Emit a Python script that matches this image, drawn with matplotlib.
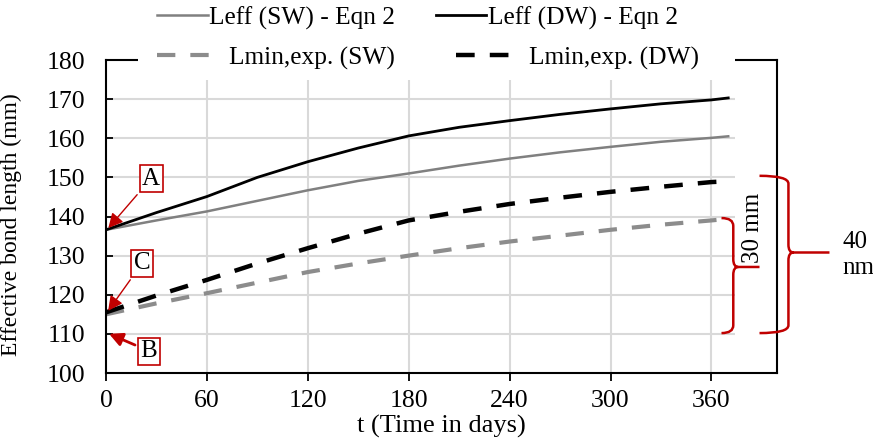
import matplotlib
matplotlib.use("Agg")
import matplotlib.pyplot as plt
from matplotlib.path import Path
from matplotlib.patches import PathPatch, Rectangle

plt.rcParams['font.family'] = ['Liberation Serif', 'DejaVu Serif']

# data
days_eff = [0, 30, 60, 90, 120, 150, 180, 210, 240, 270, 300, 330, 360, 370]
leff_sw = [136.6, 139.0, 141.3, 144.0, 146.7, 149.1, 151.0, 153.0, 154.8, 156.4, 157.8, 159.1, 160.1, 160.5]
leff_dw = [136.6, 141.0, 145.1, 150.0, 154.0, 157.5, 160.6, 162.8, 164.5, 166.1, 167.5, 168.8, 169.8, 170.3]
days_min = [0, 30, 60, 90, 120, 150, 180, 210, 240, 270, 300, 330, 360, 365]
lmin_sw = [115.0, 117.8, 120.4, 123.1, 125.8, 128.0, 130.0, 131.9, 133.6, 135.1, 136.6, 137.9, 139.0, 139.2]
lmin_dw = [115.5, 119.8, 123.8, 128.0, 131.9, 135.6, 139.0, 141.2, 143.2, 144.8, 146.3, 147.6, 148.8, 148.9]
xticks = [0, 60, 120, 180, 240, 300, 360]
yticks = [100, 110, 120, 130, 140, 150, 160, 170, 180]

RED = '#C00000'
FS = 18.5

fig = plt.figure(figsize=(8.73, 4.44), dpi=100)
ax = fig.add_axes([106/873, 1-373/444, 671/873, 313/444])
ax.set_xlim(0, 399)
ax.set_ylim(100, 180)

# grid (ends short of right border like the original)
ax.hlines(yticks[1:-1], 0, 374, color='#d9d9d9', lw=1.5, zorder=0)
ax.vlines(xticks[1:], 100, 180, color='#d9d9d9', lw=1.5, zorder=0)

l1, = ax.plot(days_eff, leff_sw, color='#808080', lw=1.8, label='Leff (SW) - Eqn 2')
l2, = ax.plot(days_eff, leff_dw, color='black', lw=2.0, label='Leff (DW) - Eqn 2')
l3, = ax.plot(days_min, lmin_sw, color='#8c8c8c', lw=3.0,
              dashes=(4.4, 3.6), label='Lmin,exp. (SW)')
l4, = ax.plot(days_min, lmin_dw, color='black', lw=3.2, dashes=(4.2, 3.4), label='Lmin,exp. (DW)')

for s in ax.spines.values():
    s.set_linewidth(1.5)
ax.set_xticks(xticks)
ax.set_yticks(yticks)
ax.tick_params(axis='y', direction='in', length=5, width=1.3, pad=15, labelsize=FS)
ax.tick_params(axis='x', direction='out', length=6, width=1.3, pad=6, labelsize=FS)
ax.set_xlabel('t (Time in days)', fontsize=19)
ax.set_ylabel('Effective bond length (mm)', fontsize=17)
ax.xaxis.set_label_coords(0.5, -0.133)
ax.yaxis.set_label_coords(-0.125, 0.475)

# white band behind the legend's second row
ax.add_patch(Rectangle((19, 175), 355.3, 20, facecolor='white', edgecolor='none',
                       zorder=4, clip_on=False))

fig.legend(handles=[l1, l2], loc='center left', bbox_to_anchor=(157/873, 1-18/444),
           ncol=2, frameon=False, fontsize=18.3, handlelength=2.0, handletextpad=0.05,
           columnspacing=1.6, borderpad=0, borderaxespad=0)
fig.legend(handles=[l3, l4], loc='center left', bbox_to_anchor=(157/873, 1-58/444),
           ncol=2, frameon=False, fontsize=18.3, handlelength=2.15, handletextpad=0.7,
           columnspacing=2.4, borderpad=0, borderaxespad=0)

# A, B, C callouts
box = dict(boxstyle='square,pad=0.1', facecolor='white', edgecolor=RED, lw=1.2)
ax.annotate('A', xy=(0.3, 136.5), xytext=(26.8, 149.7), fontsize=18, ha='center', va='center',
            bbox=box, arrowprops=dict(arrowstyle='-|>', color=RED, lw=1, mutation_scale=22))
ax.annotate('C', xy=(0.3, 115.3), xytext=(21.4, 128.0), fontsize=18, ha='center', va='center',
            bbox=box, arrowprops=dict(arrowstyle='-|>', color=RED, lw=1, mutation_scale=22))
ax.annotate('B', xy=(0.3, 110.3), xytext=(25.6, 105.6), fontsize=18, ha='center', va='center',
            bbox=box, arrowprops=dict(arrowstyle='-|>', color=RED, lw=2, mutation_scale=20))


def brace(x0, x1, x2, ybot, ytop, ym, r=2.0, rx=3.0):
    verts = [(x0, ytop), (x1, ytop), (x1, ytop - r),
             (x1, ym + r), (x1, ym), (x1 + rx, ym),
             (x2, ym), (x1 + rx, ym),
             (x1, ym), (x1, ym - r),
             (x1, ybot + r), (x1, ybot), (x0, ybot)]
    codes = [Path.MOVETO, Path.CURVE3, Path.CURVE3,
             Path.LINETO, Path.CURVE3, Path.CURVE3,
             Path.LINETO, Path.MOVETO,
             Path.CURVE3, Path.CURVE3,
             Path.LINETO, Path.CURVE3, Path.CURVE3]
    ax.add_patch(PathPatch(Path(verts, codes), facecolor='none', edgecolor=RED,
                           lw=1.8, clip_on=False, zorder=5))


brace(366, 373, 388.6, 110.2, 139.6, 127.1)
brace(388.6, 405.8, 430.2, 110.2, 150.4, 130.8)
ax.text(384.6, 137.1, '30 mm', rotation=90, fontsize=18, ha='center', va='center')
ax.text(438, 130.2, '40\nnm', fontsize=18, ha='left', va='center', linespacing=1.25)

fig.savefig('out.png', dpi=100)
